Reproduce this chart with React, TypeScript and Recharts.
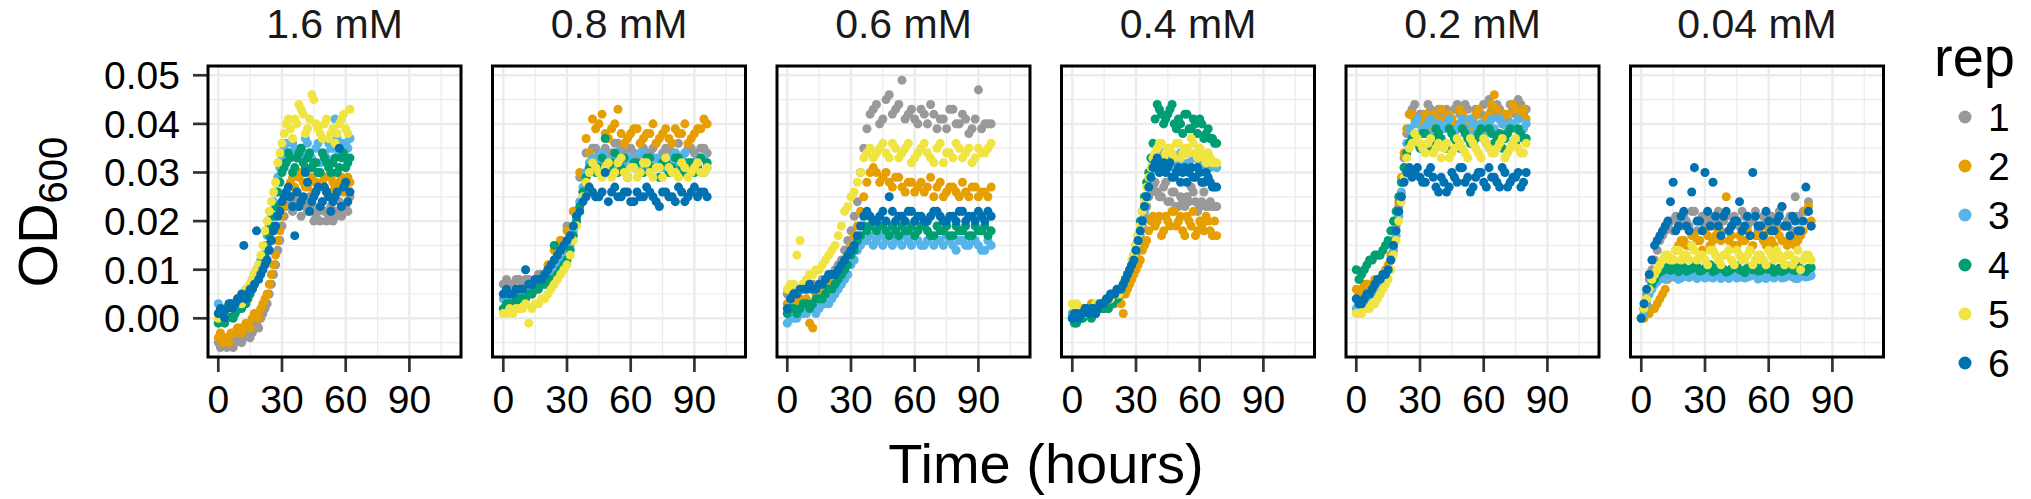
import React from 'react';
import { ScatterChart, Scatter, XAxis, YAxis, ZAxis, ReferenceLine } from 'recharts';

// ---------- labels / categories ----------
const PANEL_TITLES = ['1.6 mM', '0.8 mM', '0.6 mM', '0.4 mM', '0.2 mM', '0.04 mM'];
const REP_LABELS = ['1', '2', '3', '4', '5', '6'];
const REP_COLORS = ['#999999', '#E69F00', '#56B4E9', '#009E73', '#F0E442', '#0072B2'];
const X_TICKS = [0, 30, 60, 90];
const X_MINOR = [15, 45, 75, 105];
const Y_TICKS = [0, 0.01, 0.02, 0.03, 0.04, 0.05];
const Y_MINOR = [-0.005, 0.005, 0.015, 0.025, 0.035, 0.045];
const X_TITLE = 'Time (hours)';
const LEGEND_TITLE = 'rep';

// ---------- 1.6 mM ----------
const T_16 = [0, 2, 4, 6, 8, 10, 12, 14, 16, 18, 20, 22, 24, 26, 28, 30, 32, 34, 36, 38, 40, 42, 44, 46, 48, 50, 52, 54, 56, 58, 60, 62];
const R1_16 = [-0.005, -0.005, -0.006, -0.005, -0.005, -0.004, -0.004, -0.003, -0.003, -0.001, 0.0, 0.002, 0.005, 0.009, 0.014, 0.019, 0.023, 0.025, 0.024, 0.023, 0.024, 0.022, 0.023, 0.021, 0.02, 0.022, 0.021, 0.02, 0.022, 0.021, 0.023, 0.025];
const R2_16 = [-0.004, -0.005, -0.004, -0.003, -0.003, -0.002, -0.002, -0.001, 0.0, 0.001, 0.002, 0.004, 0.007, 0.011, 0.016, 0.021, 0.025, 0.028, 0.027, 0.029, 0.028, 0.027, 0.029, 0.028, 0.027, 0.029, 0.026, 0.028, 0.027, 0.029, 0.027, 0.028];
const R3_16 = [0.003, 0.001, 0.002, 0.002, 0.003, 0.004, 0.005, 0.006, 0.008, 0.01, 0.012, 0.015, 0.019, 0.024, 0.029, 0.033, 0.036, 0.034, 0.035, 0.033, 0.034, 0.036, 0.033, 0.035, 0.032, 0.034, 0.036, 0.035, 0.037, 0.034, 0.036, 0.037];
const R4_16 = [-0.001, 0.0, 0.0, 0.001, 0.001, 0.002, 0.003, 0.004, 0.006, 0.008, 0.01, 0.013, 0.017, 0.021, 0.026, 0.03, 0.032, 0.033, 0.031, 0.034, 0.032, 0.033, 0.031, 0.032, 0.03, 0.033, 0.031, 0.032, 0.03, 0.033, 0.031, 0.033];
const R5_16 = [0.0, 0.001, 0.002, 0.002, 0.003, 0.004, 0.005, 0.006, 0.008, 0.01, 0.013, 0.018, 0.022, 0.026, 0.032, 0.036, 0.04, 0.039, 0.041, 0.044, 0.042, 0.039, 0.046, 0.04, 0.038, 0.04, 0.037, 0.039, 0.038, 0.041, 0.039, 0.043];
const R6_16 = [0.001, 0.001, 0.002, 0.003, 0.003, 0.004, 0.015, 0.005, 0.006, 0.018, 0.009, 0.011, 0.014, 0.018, 0.021, 0.024, 0.026, 0.025, 0.017, 0.023, 0.025, 0.028, 0.024, 0.026, 0.023, 0.027, 0.025, 0.024, 0.026, 0.023, 0.028, 0.026];
const TB_16 = [1, 3, 5, 7, 9, 11, 13, 15, 17, 19, 21, 23, 25, 27, 29, 31, 33, 35, 37, 39, 41, 43, 45, 47, 49, 51, 53, 55, 57, 59, 61];
const B1_16 = [-0.006, -0.005, -0.004, -0.006, -0.004, -0.005, -0.003, -0.004, -0.002, -0.002, 0.001, 0.003, 0.007, 0.011, 0.016, 0.021, 0.024, 0.022, 0.025, 0.021, 0.023, 0.025, 0.02, 0.022, 0.024, 0.02, 0.023, 0.021, 0.024, 0.022, 0.022];
const B2_16 = [-0.003, -0.004, -0.005, -0.003, -0.002, -0.003, -0.001, -0.002, 0.001, 0.0, 0.003, 0.005, 0.009, 0.013, 0.018, 0.023, 0.027, 0.029, 0.026, 0.03, 0.027, 0.028, 0.026, 0.03, 0.028, 0.026, 0.029, 0.027, 0.028, 0.026, 0.029];
const B3_16 = [0.002, 0.002, 0.001, 0.003, 0.004, 0.003, 0.006, 0.007, 0.009, 0.011, 0.013, 0.017, 0.021, 0.026, 0.031, 0.035, 0.034, 0.036, 0.033, 0.035, 0.037, 0.034, 0.032, 0.036, 0.034, 0.033, 0.035, 0.041, 0.034, 0.036, 0.035];
const B4_16 = [0.0, -0.001, 0.001, 0.0, 0.002, 0.002, 0.003, 0.005, 0.007, 0.009, 0.012, 0.015, 0.019, 0.023, 0.028, 0.031, 0.034, 0.03, 0.033, 0.035, 0.031, 0.034, 0.032, 0.03, 0.034, 0.032, 0.03, 0.033, 0.031, 0.034, 0.032];
const B5_16 = [0.001, 0.0, 0.003, 0.002, 0.004, 0.003, 0.006, 0.007, 0.009, 0.011, 0.015, 0.02, 0.024, 0.028, 0.034, 0.038, 0.041, 0.037, 0.04, 0.043, 0.038, 0.041, 0.045, 0.039, 0.037, 0.041, 0.038, 0.036, 0.04, 0.042, 0.038];
const B6_16 = [0.002, 0.0, 0.003, 0.002, 0.004, 0.005, 0.004, 0.006, 0.007, 0.008, 0.01, 0.012, 0.016, 0.019, 0.022, 0.025, 0.027, 0.023, 0.026, 0.024, 0.03, 0.022, 0.025, 0.027, 0.024, 0.026, 0.022, 0.025, 0.035, 0.027, 0.024];

// ---------- 0.8 mM ----------
const T_08 = [0, 3, 6, 9, 12, 15, 18, 21, 24, 27, 30, 33, 36, 39, 42, 45, 48, 51, 54, 57, 60, 63, 66, 69, 72, 75, 78, 81, 84, 87, 90, 93, 96];
const R1_08 = [0.007, 0.007, 0.008, 0.007, 0.008, 0.008, 0.009, 0.01, 0.012, 0.016, 0.019, 0.022, 0.029, 0.034, 0.035, 0.034, 0.035, 0.034, 0.036, 0.034, 0.035, 0.033, 0.035, 0.034, 0.036, 0.034, 0.035, 0.034, 0.033, 0.035, 0.034, 0.035, 0.034];
const R2_08 = [0.004, 0.004, 0.005, 0.005, 0.006, 0.006, 0.008, 0.011, 0.014, 0.016, 0.018, 0.022, 0.03, 0.037, 0.041, 0.04, 0.038, 0.039, 0.043, 0.036, 0.038, 0.039, 0.037, 0.038, 0.036, 0.038, 0.037, 0.039, 0.038, 0.036, 0.038, 0.039, 0.04];
const R3_08 = [0.004, 0.004, 0.005, 0.005, 0.005, 0.006, 0.007, 0.008, 0.009, 0.011, 0.013, 0.018, 0.024, 0.03, 0.033, 0.032, 0.033, 0.031, 0.034, 0.032, 0.033, 0.031, 0.034, 0.032, 0.033, 0.031, 0.032, 0.034, 0.033, 0.031, 0.032, 0.033, 0.031];
const R4_08 = [0.002, 0.003, 0.0035, 0.004, 0.005, 0.006, 0.007, 0.008, 0.015, 0.01, 0.012, 0.017, 0.023, 0.029, 0.032, 0.031, 0.037, 0.032, 0.03, 0.033, 0.031, 0.032, 0.03, 0.033, 0.031, 0.032, 0.03, 0.033, 0.031, 0.032, 0.03, 0.033, 0.032];
const R5_08 = [0.001, 0.002, 0.002, 0.002, -0.001, 0.003, 0.004, 0.005, 0.007, 0.009, 0.011, 0.016, 0.022, 0.028, 0.032, 0.03, 0.031, 0.029, 0.032, 0.03, 0.031, 0.029, 0.032, 0.03, 0.031, 0.029, 0.031, 0.03, 0.032, 0.029, 0.031, 0.03, 0.031];
const R6_08 = [0.005, 0.005, 0.006, 0.006, 0.007, 0.008, 0.008, 0.01, 0.012, 0.014, 0.016, 0.019, 0.022, 0.025, 0.026, 0.025, 0.03, 0.026, 0.025, 0.026, 0.024, 0.026, 0.025, 0.026, 0.024, 0.026, 0.025, 0.024, 0.026, 0.025, 0.027, 0.026, 0.025];
const TB_08 = [1.5, 4.5, 7.5, 10.5, 13.5, 16.5, 19.5, 22.5, 25.5, 28.5, 31.5, 34.5, 37.5, 40.5, 43.5, 46.5, 49.5, 52.5, 55.5, 58.5, 61.5, 64.5, 67.5, 70.5, 73.5, 76.5, 79.5, 82.5, 85.5, 88.5, 91.5, 94.5];
const B1_08 = [0.008, 0.007, 0.008, 0.008, 0.007, 0.009, 0.008, 0.009, 0.011, 0.014, 0.017, 0.021, 0.025, 0.031, 0.035, 0.033, 0.034, 0.036, 0.035, 0.033, 0.034, 0.036, 0.034, 0.035, 0.033, 0.035, 0.034, 0.036, 0.034, 0.035, 0.033, 0.035];
const B2_08 = [0.004, 0.005, 0.005, 0.006, 0.005, 0.007, 0.007, 0.01, 0.012, 0.015, 0.017, 0.02, 0.026, 0.034, 0.039, 0.042, 0.037, 0.04, 0.038, 0.037, 0.039, 0.036, 0.038, 0.04, 0.037, 0.039, 0.036, 0.038, 0.04, 0.037, 0.039, 0.041];
const B3_08 = [0.003, 0.004, 0.005, 0.004, 0.006, 0.006, 0.007, 0.008, 0.01, 0.012, 0.015, 0.021, 0.027, 0.032, 0.032, 0.034, 0.032, 0.033, 0.031, 0.033, 0.032, 0.034, 0.031, 0.033, 0.032, 0.031, 0.033, 0.032, 0.034, 0.032, 0.031, 0.033];
const B4_08 = [0.003, 0.002, 0.004, 0.004, 0.005, 0.006, 0.007, 0.008, 0.009, 0.011, 0.014, 0.02, 0.026, 0.031, 0.03, 0.033, 0.031, 0.034, 0.031, 0.029, 0.032, 0.03, 0.033, 0.031, 0.029, 0.032, 0.031, 0.033, 0.03, 0.032, 0.031, 0.03];
const B5_08 = [0.001, 0.001, 0.002, 0.003, 0.002, 0.003, 0.004, 0.006, 0.008, 0.01, 0.013, 0.019, 0.025, 0.03, 0.031, 0.029, 0.032, 0.03, 0.033, 0.029, 0.031, 0.03, 0.032, 0.029, 0.031, 0.033, 0.03, 0.029, 0.031, 0.03, 0.032, 0.03];
const B6_08 = [0.006, 0.005, 0.006, 0.01, 0.007, 0.008, 0.009, 0.011, 0.013, 0.015, 0.017, 0.021, 0.024, 0.027, 0.025, 0.026, 0.024, 0.027, 0.025, 0.026, 0.024, 0.025, 0.027, 0.025, 0.023, 0.026, 0.025, 0.027, 0.024, 0.026, 0.025, 0.026];

// ---------- 0.6 mM ----------
const T_06 = [0, 3, 6, 9, 12, 15, 18, 21, 24, 27, 30, 33, 36, 39, 42, 45, 48, 51, 54, 57, 60, 63, 66, 69, 72, 75, 78, 81, 84, 87, 90, 93, 96];
const R1_06 = [0.005, 0.005, 0.006, 0.006, 0.007, 0.007, 0.008, 0.009, 0.011, 0.014, 0.018, 0.024, 0.035, 0.042, 0.044, 0.041, 0.046, 0.043, 0.049, 0.042, 0.041, 0.043, 0.04, 0.042, 0.041, 0.039, 0.043, 0.04, 0.041, 0.039, 0.047, 0.04, 0.04];
const R2_06 = [0.003, 0.003, 0.004, 0.004, -0.002, 0.005, 0.006, 0.007, 0.009, 0.012, 0.015, 0.019, 0.025, 0.03, 0.03, 0.029, 0.028, 0.029, 0.027, 0.028, 0.026, 0.028, 0.027, 0.025, 0.028, 0.026, 0.027, 0.025, 0.026, 0.027, 0.025, 0.026, 0.027];
const R3_06 = [-0.001, 0.0, 0.001, 0.001, 0.002, 0.002, 0.003, 0.004, 0.006, 0.008, 0.011, 0.014, 0.016, 0.017, 0.016, 0.015, 0.017, 0.016, 0.015, 0.016, 0.017, 0.015, 0.016, 0.015, 0.016, 0.017, 0.015, 0.016, 0.015, 0.016, 0.015, 0.014, 0.015];
const R4_06 = [0.001, 0.002, 0.002, 0.003, 0.003, 0.004, 0.005, 0.006, 0.008, 0.01, 0.013, 0.016, 0.019, 0.019, 0.018, 0.019, 0.017, 0.018, 0.019, 0.018, 0.017, 0.019, 0.018, 0.017, 0.018, 0.019, 0.017, 0.018, 0.019, 0.017, 0.018, 0.019, 0.018];
const R5_06 = [0.006, 0.007, 0.016, 0.008, 0.009, 0.01, 0.012, 0.014, 0.017, 0.022, 0.025, 0.028, 0.033, 0.035, 0.034, 0.036, 0.033, 0.035, 0.034, 0.036, 0.033, 0.035, 0.034, 0.032, 0.036, 0.034, 0.033, 0.035, 0.034, 0.032, 0.035, 0.034, 0.036];
const R6_06 = [0.002, 0.005, 0.006, 0.006, 0.006, 0.007, 0.008, 0.009, 0.01, 0.012, 0.014, 0.017, 0.021, 0.021, 0.02, 0.022, 0.025, 0.02, 0.021, 0.022, 0.02, 0.021, 0.02, 0.022, 0.021, 0.02, 0.021, 0.022, 0.02, 0.021, 0.022, 0.02, 0.021];
const TB_06 = [1.5, 4.5, 7.5, 10.5, 13.5, 16.5, 19.5, 22.5, 25.5, 28.5, 31.5, 34.5, 37.5, 40.5, 43.5, 46.5, 49.5, 52.5, 55.5, 58.5, 61.5, 64.5, 67.5, 70.5, 73.5, 76.5, 79.5, 82.5, 85.5, 88.5, 91.5, 94.5];
const B1_06 = [0.006, 0.005, 0.007, 0.006, 0.006, 0.008, 0.008, 0.01, 0.012, 0.016, 0.021, 0.03, 0.039, 0.043, 0.04, 0.045, 0.042, 0.044, 0.041, 0.043, 0.04, 0.042, 0.044, 0.039, 0.041, 0.043, 0.04, 0.042, 0.038, 0.041, 0.039, 0.04];
const B2_06 = [0.003, 0.004, 0.003, -0.001, 0.005, 0.005, 0.007, 0.008, 0.01, 0.013, 0.017, 0.022, 0.028, 0.031, 0.028, 0.03, 0.027, 0.029, 0.026, 0.028, 0.027, 0.026, 0.029, 0.027, 0.025, 0.027, 0.026, 0.028, 0.025, 0.027, 0.026, 0.025];
const B3_06 = [0.0, 0.0, 0.001, 0.002, 0.001, 0.003, 0.003, 0.005, 0.007, 0.009, 0.012, 0.015, 0.016, 0.015, 0.017, 0.016, 0.015, 0.016, 0.017, 0.015, 0.016, 0.015, 0.017, 0.016, 0.015, 0.016, 0.014, 0.016, 0.015, 0.016, 0.014, 0.016];
const B4_06 = [0.002, 0.001, 0.003, 0.002, 0.004, 0.004, 0.006, 0.007, 0.009, 0.011, 0.014, 0.017, 0.018, 0.02, 0.019, 0.018, 0.019, 0.017, 0.018, 0.019, 0.018, 0.019, 0.017, 0.019, 0.018, 0.017, 0.019, 0.018, 0.017, 0.019, 0.018, 0.017];
const B5_06 = [0.007, 0.013, 0.007, 0.009, 0.01, 0.011, 0.013, 0.015, 0.019, 0.023, 0.026, 0.03, 0.034, 0.033, 0.035, 0.034, 0.036, 0.033, 0.035, 0.032, 0.034, 0.036, 0.033, 0.035, 0.032, 0.034, 0.036, 0.033, 0.035, 0.033, 0.034, 0.035];
const B6_06 = [0.004, 0.005, 0.006, 0.007, 0.006, 0.007, 0.009, 0.009, 0.011, 0.013, 0.015, 0.019, 0.022, 0.02, 0.021, 0.02, 0.022, 0.021, 0.02, 0.022, 0.021, 0.02, 0.021, 0.022, 0.02, 0.021, 0.02, 0.022, 0.021, 0.02, 0.021, 0.022];

// ---------- 0.4 mM ----------
const T_04 = [0, 2, 4, 6, 8, 10, 12, 14, 16, 18, 20, 22, 24, 26, 28, 30, 32, 34, 36, 38, 40, 42, 44, 46, 48, 50, 52, 54, 56, 58, 60, 62, 64, 66, 68];
const R1_04 = [0.001, 0.001, 0.0, 0.001, 0.001, 0.001, 0.002, 0.002, 0.002, 0.003, 0.004, 0.005, 0.006, 0.008, 0.01, 0.013, 0.017, 0.021, 0.025, 0.027, 0.026, 0.025, 0.028, 0.024, 0.026, 0.023, 0.024, 0.025, 0.027, 0.024, 0.023, 0.026, 0.023, 0.023, 0.023];
const R2_04 = [0.0, 0.001, 0.001, 0.002, 0.001, 0.002, 0.003, 0.002, 0.002, 0.003, 0.003, 0.004, 0.001, 0.006, 0.008, 0.01, 0.012, 0.015, 0.018, 0.021, 0.02, 0.017, 0.021, 0.019, 0.022, 0.02, 0.018, 0.021, 0.019, 0.017, 0.02, 0.018, 0.02, 0.017, 0.017];
const R3_04 = [0.001, 0.001, 0.001, 0.001, 0.002, 0.001, 0.002, 0.002, 0.003, 0.003, 0.004, 0.005, 0.007, 0.009, 0.011, 0.014, 0.018, 0.022, 0.028, 0.032, 0.033, 0.034, 0.032, 0.033, 0.031, 0.033, 0.032, 0.034, 0.031, 0.033, 0.032, 0.031, 0.033, 0.032, 0.031];
const R4_04 = [0.0, -0.001, 0.0, 0.001, 0.001, 0.001, 0.002, 0.002, 0.003, 0.003, 0.004, 0.005, 0.007, 0.009, 0.011, 0.015, 0.02, 0.025, 0.03, 0.036, 0.044, 0.042, 0.041, 0.043, 0.04, 0.041, 0.038, 0.042, 0.039, 0.04, 0.041, 0.037, 0.039, 0.037, 0.036];
const R5_04 = [0.003, 0.003, 0.001, 0.001, 0.002, 0.002, 0.002, 0.003, 0.004, 0.004, 0.005, 0.005, 0.007, 0.009, 0.012, 0.015, 0.019, 0.024, 0.029, 0.033, 0.035, 0.036, 0.034, 0.035, 0.033, 0.036, 0.034, 0.035, 0.037, 0.034, 0.035, 0.033, 0.034, 0.032, 0.032];
const R6_04 = [0.0, 0.001, 0.001, 0.002, 0.001, 0.002, 0.002, 0.003, 0.004, 0.005, 0.005, 0.006, 0.007, 0.009, 0.011, 0.014, 0.018, 0.023, 0.027, 0.031, 0.033, 0.031, 0.03, 0.032, 0.029, 0.031, 0.03, 0.028, 0.031, 0.029, 0.03, 0.028, 0.029, 0.027, 0.027];
const TB_04 = [1, 3, 5, 7, 9, 11, 13, 15, 17, 19, 21, 23, 25, 27, 29, 31, 33, 35, 37, 39, 41, 43, 45, 47, 49, 51, 53, 55, 57, 59, 61, 63, 65, 67];
const B1_04 = [0.001, 0.0, 0.001, 0.001, 0.002, 0.001, 0.002, 0.002, 0.003, 0.003, 0.004, 0.005, 0.007, 0.009, 0.011, 0.015, 0.019, 0.023, 0.026, 0.028, 0.025, 0.027, 0.024, 0.026, 0.023, 0.025, 0.023, 0.024, 0.026, 0.022, 0.024, 0.023, 0.024, 0.023];
const B2_04 = [0.001, 0.0, 0.002, 0.001, 0.003, 0.002, 0.002, 0.003, 0.002, 0.003, 0.004, 0.003, 0.005, 0.007, 0.009, 0.011, 0.014, 0.016, 0.02, 0.019, 0.021, 0.018, 0.02, 0.022, 0.019, 0.021, 0.017, 0.02, 0.022, 0.018, 0.019, 0.021, 0.018, 0.02];
const B3_04 = [0.001, 0.002, 0.001, 0.001, 0.002, 0.002, 0.002, 0.003, 0.003, 0.004, 0.004, 0.006, 0.008, 0.01, 0.012, 0.016, 0.02, 0.025, 0.03, 0.033, 0.032, 0.034, 0.031, 0.033, 0.032, 0.034, 0.031, 0.032, 0.033, 0.031, 0.032, 0.033, 0.031, 0.032];
const B4_04 = [-0.001, 0.0, 0.0, 0.001, 0.0, 0.001, 0.002, 0.002, 0.002, 0.003, 0.004, 0.006, 0.008, 0.01, 0.013, 0.017, 0.022, 0.028, 0.033, 0.041, 0.043, 0.04, 0.042, 0.044, 0.039, 0.04, 0.042, 0.039, 0.041, 0.038, 0.04, 0.038, 0.037, 0.036];
const B5_04 = [0.002, 0.002, 0.001, 0.002, 0.002, 0.003, 0.003, 0.003, 0.004, 0.005, 0.005, 0.006, 0.008, 0.01, 0.013, 0.017, 0.022, 0.027, 0.031, 0.034, 0.036, 0.033, 0.035, 0.034, 0.036, 0.033, 0.035, 0.034, 0.036, 0.033, 0.034, 0.032, 0.033, 0.032];
const B6_04 = [0.001, 0.0, 0.001, 0.002, 0.002, 0.001, 0.003, 0.003, 0.004, 0.005, 0.006, 0.006, 0.008, 0.01, 0.012, 0.016, 0.02, 0.025, 0.029, 0.032, 0.03, 0.032, 0.031, 0.029, 0.03, 0.028, 0.031, 0.03, 0.029, 0.031, 0.028, 0.03, 0.028, 0.027];

// ---------- 0.2 mM ----------
const T_02 = [0, 2.5, 5, 7.5, 10, 12.5, 15, 17.5, 20, 22.5, 25, 27.5, 30, 32.5, 35, 37.5, 40, 42.5, 45, 47.5, 50, 52.5, 55, 57.5, 60, 62.5, 65, 67.5, 70, 72.5, 75, 77.5, 80];
const R1_02 = [0.004, 0.005, 0.005, 0.006, 0.007, 0.008, 0.01, 0.015, 0.023, 0.033, 0.042, 0.044, 0.042, 0.041, 0.043, 0.041, 0.042, 0.043, 0.041, 0.044, 0.042, 0.043, 0.041, 0.042, 0.044, 0.045, 0.042, 0.043, 0.041, 0.044, 0.042, 0.044, 0.043];
const R2_02 = [0.006, 0.006, 0.007, 0.007, 0.008, 0.009, 0.011, 0.016, 0.024, 0.034, 0.042, 0.041, 0.04, 0.042, 0.039, 0.041, 0.043, 0.04, 0.041, 0.039, 0.042, 0.04, 0.041, 0.043, 0.04, 0.042, 0.046, 0.041, 0.042, 0.04, 0.043, 0.042, 0.041];
const R3_02 = [0.002, 0.003, 0.004, 0.005, 0.006, 0.008, 0.01, 0.014, 0.021, 0.031, 0.039, 0.04, 0.038, 0.039, 0.041, 0.038, 0.039, 0.04, 0.038, 0.039, 0.041, 0.038, 0.04, 0.039, 0.038, 0.04, 0.039, 0.041, 0.038, 0.04, 0.039, 0.038, 0.04];
const R4_02 = [0.01, 0.009, 0.011, 0.012, 0.013, 0.014, 0.016, 0.02, 0.025, 0.031, 0.036, 0.037, 0.035, 0.038, 0.036, 0.039, 0.037, 0.035, 0.038, 0.036, 0.039, 0.037, 0.036, 0.038, 0.037, 0.039, 0.036, 0.038, 0.037, 0.039, 0.036, 0.038, 0.037];
const R5_02 = [0.001, 0.001, 0.002, 0.003, 0.004, 0.006, 0.008, 0.013, 0.02, 0.029, 0.035, 0.038, 0.036, 0.034, 0.037, 0.035, 0.033, 0.036, 0.034, 0.037, 0.035, 0.033, 0.036, 0.034, 0.037, 0.035, 0.034, 0.036, 0.033, 0.035, 0.037, 0.034, 0.036];
const R6_02 = [0.004, 0.003, 0.005, 0.006, 0.008, 0.009, 0.01, 0.015, 0.022, 0.028, 0.031, 0.03, 0.029, 0.028, 0.031, 0.027, 0.029, 0.026, 0.03, 0.028, 0.031, 0.029, 0.027, 0.03, 0.028, 0.031, 0.029, 0.027, 0.03, 0.028, 0.029, 0.027, 0.03];
const TB_02 = [1.25, 3.75, 6.25, 8.75, 11.25, 13.75, 16.25, 18.75, 21.25, 23.75, 26.25, 28.75, 31.25, 33.75, 36.25, 38.75, 41.25, 43.75, 46.25, 48.75, 51.25, 53.75, 56.25, 58.75, 61.25, 63.75, 66.25, 68.75, 71.25, 73.75, 76.25, 78.75];
const B1_02 = [0.004, 0.005, 0.006, 0.006, 0.007, 0.009, 0.012, 0.019, 0.028, 0.038, 0.043, 0.041, 0.042, 0.044, 0.04, 0.043, 0.042, 0.041, 0.043, 0.042, 0.044, 0.04, 0.043, 0.042, 0.041, 0.043, 0.044, 0.042, 0.041, 0.043, 0.045, 0.042];
const B2_02 = [0.005, 0.007, 0.006, 0.008, 0.008, 0.01, 0.013, 0.02, 0.029, 0.039, 0.042, 0.04, 0.041, 0.039, 0.042, 0.04, 0.041, 0.042, 0.04, 0.043, 0.041, 0.039, 0.042, 0.04, 0.041, 0.044, 0.043, 0.04, 0.042, 0.044, 0.041, 0.043];
const B3_02 = [0.003, 0.003, 0.005, 0.005, 0.007, 0.009, 0.012, 0.017, 0.026, 0.036, 0.038, 0.041, 0.039, 0.04, 0.038, 0.04, 0.039, 0.041, 0.038, 0.04, 0.039, 0.041, 0.038, 0.04, 0.039, 0.041, 0.038, 0.04, 0.039, 0.04, 0.041, 0.039];
const B4_02 = [0.008, 0.01, 0.012, 0.013, 0.013, 0.015, 0.018, 0.022, 0.028, 0.034, 0.037, 0.036, 0.038, 0.035, 0.037, 0.038, 0.036, 0.039, 0.037, 0.035, 0.038, 0.036, 0.037, 0.039, 0.036, 0.038, 0.037, 0.035, 0.038, 0.036, 0.039, 0.037];
const B5_02 = [0.001, 0.002, 0.002, 0.003, 0.005, 0.007, 0.01, 0.016, 0.024, 0.033, 0.036, 0.037, 0.035, 0.036, 0.034, 0.036, 0.035, 0.033, 0.035, 0.036, 0.034, 0.037, 0.035, 0.033, 0.036, 0.034, 0.035, 0.037, 0.034, 0.036, 0.035, 0.034];
const B6_02 = [0.003, 0.004, 0.005, 0.007, 0.008, 0.009, 0.012, 0.018, 0.025, 0.03, 0.029, 0.031, 0.028, 0.03, 0.029, 0.026, 0.028, 0.027, 0.029, 0.031, 0.028, 0.026, 0.029, 0.03, 0.027, 0.029, 0.028, 0.031, 0.027, 0.029, 0.03, 0.028];

// ---------- 0.04 mM ----------
const T_004 = [0, 2.5, 5, 7.5, 10, 12.5, 15, 17.5, 20, 22.5, 25, 27.5, 30, 32.5, 35, 37.5, 40, 42.5, 45, 47.5, 50, 52.5, 55, 57.5, 60, 62.5, 65, 67.5, 70, 72.5, 75, 77.5, 80];
const R1_004 = [0.0, 0.005, 0.01, 0.014, 0.017, 0.019, 0.018, 0.02, 0.021, 0.019, 0.022, 0.02, 0.019, 0.021, 0.02, 0.018, 0.021, 0.019, 0.02, 0.022, 0.019, 0.02, 0.018, 0.021, 0.019, 0.02, 0.022, 0.019, 0.021, 0.025, 0.02, 0.022, 0.019];
const R2_004 = [0.0, 0.001, 0.002, 0.003, 0.005, 0.008, 0.012, 0.015, 0.016, 0.015, 0.017, 0.016, 0.018, 0.015, 0.017, 0.016, 0.025, 0.017, 0.015, 0.016, 0.018, 0.015, 0.017, 0.016, 0.018, 0.015, 0.017, 0.019, 0.016, 0.015, 0.017, 0.022, 0.02];
const R3_004 = [0.0, 0.003, 0.006, 0.0075, 0.0082, 0.0088, 0.0085, 0.008, 0.009, 0.0084, 0.0088, 0.0092, 0.0083, 0.0087, 0.009, 0.0082, 0.0086, 0.0089, 0.0083, 0.0087, 0.0085, 0.009, 0.0081, 0.0086, 0.0088, 0.0083, 0.0087, 0.0084, 0.0089, 0.0082, 0.0086, 0.0085, 0.0088];
const R4_004 = [0.0, 0.004, 0.007, 0.009, 0.0098, 0.0102, 0.0107, 0.0096, 0.0104, 0.01, 0.0108, 0.0097, 0.0103, 0.011, 0.0099, 0.0105, 0.0095, 0.0102, 0.0108, 0.0098, 0.0104, 0.01, 0.0097, 0.0106, 0.0101, 0.0095, 0.0103, 0.0099, 0.0107, 0.0098, 0.0102, 0.0096, 0.0104];
const R5_004 = [0.0, 0.004, 0.008, 0.01, 0.012, 0.013, 0.012, 0.014, 0.013, 0.012, 0.014, 0.013, 0.012, 0.014, 0.013, 0.011, 0.013, 0.012, 0.014, 0.012, 0.013, 0.011, 0.013, 0.012, 0.014, 0.012, 0.013, 0.011, 0.013, 0.012, 0.01, 0.013, 0.012];
const R6_004 = [0.0, 0.006, 0.012, 0.016, 0.018, 0.02, 0.028, 0.019, 0.022, 0.018, 0.031, 0.02, 0.03, 0.019, 0.021, 0.017, 0.022, 0.019, 0.02, 0.018, 0.021, 0.03, 0.019, 0.017, 0.02, 0.018, 0.021, 0.019, 0.017, 0.02, 0.018, 0.027, 0.019];
const TB_004 = [1.25, 3.75, 6.25, 8.75, 11.25, 13.75, 16.25, 18.75, 21.25, 23.75, 26.25, 28.75, 31.25, 33.75, 36.25, 38.75, 41.25, 43.75, 46.25, 48.75, 51.25, 53.75, 56.25, 58.75, 61.25, 63.75, 66.25, 68.75, 71.25, 73.75, 76.25, 78.75];
const B1_004 = [0.002, 0.008, 0.012, 0.016, 0.018, 0.02, 0.021, 0.019, 0.02, 0.022, 0.018, 0.021, 0.02, 0.019, 0.022, 0.02, 0.018, 0.021, 0.019, 0.021, 0.02, 0.022, 0.019, 0.02, 0.021, 0.019, 0.023, 0.02, 0.018, 0.021, 0.022, 0.024];
const B2_004 = [0.0, 0.001, 0.002, 0.004, 0.006, 0.01, 0.014, 0.016, 0.015, 0.017, 0.016, 0.014, 0.017, 0.016, 0.018, 0.021, 0.016, 0.015, 0.017, 0.016, 0.014, 0.017, 0.019, 0.015, 0.016, 0.018, 0.016, 0.015, 0.017, 0.016, 0.018, 0.023];
const B3_004 = [0.001, 0.005, 0.007, 0.0085, 0.008, 0.0087, 0.0089, 0.0083, 0.0086, 0.009, 0.0082, 0.0087, 0.0085, 0.0083, 0.0089, 0.0086, 0.0082, 0.0088, 0.0085, 0.0083, 0.0087, 0.0089, 0.0084, 0.0082, 0.0086, 0.0089, 0.0083, 0.0087, 0.0085, 0.0082, 0.0088, 0.0086];
const B4_004 = [0.002, 0.006, 0.008, 0.0095, 0.0105, 0.0099, 0.0103, 0.0108, 0.0097, 0.0102, 0.0106, 0.0099, 0.0104, 0.0096, 0.0108, 0.0101, 0.0097, 0.0105, 0.01, 0.0094, 0.0103, 0.0107, 0.0098, 0.0102, 0.0105, 0.0099, 0.0096, 0.0104, 0.01, 0.0107, 0.0098, 0.0103];
const B5_004 = [0.002, 0.006, 0.009, 0.011, 0.013, 0.012, 0.014, 0.012, 0.013, 0.015, 0.012, 0.013, 0.011, 0.014, 0.012, 0.013, 0.014, 0.011, 0.013, 0.012, 0.014, 0.012, 0.013, 0.011, 0.013, 0.014, 0.012, 0.013, 0.011, 0.014, 0.012, 0.013];
const B6_004 = [0.003, 0.009, 0.015, 0.017, 0.019, 0.024, 0.018, 0.021, 0.019, 0.026, 0.02, 0.018, 0.022, 0.028, 0.019, 0.021, 0.018, 0.02, 0.024, 0.019, 0.017, 0.021, 0.019, 0.022, 0.018, 0.02, 0.023, 0.019, 0.021, 0.018, 0.02, 0.022];

const PANEL_TIMES = [T_16, T_08, T_06, T_04, T_02, T_004];
const PANEL_REPS = [
  [R1_16, R2_16, R3_16, R4_16, R5_16, R6_16],
  [R1_08, R2_08, R3_08, R4_08, R5_08, R6_08],
  [R1_06, R2_06, R3_06, R4_06, R5_06, R6_06],
  [R1_04, R2_04, R3_04, R4_04, R5_04, R6_04],
  [R1_02, R2_02, R3_02, R4_02, R5_02, R6_02],
  [R1_004, R2_004, R3_004, R4_004, R5_004, R6_004],
];
const PANEL_TIMES_B = [TB_16, TB_08, TB_06, TB_04, TB_02, TB_004];
const PANEL_REPS_B = [
  [B1_16, B2_16, B3_16, B4_16, B5_16, B6_16],
  [B1_08, B2_08, B3_08, B4_08, B5_08, B6_08],
  [B1_06, B2_06, B3_06, B4_06, B5_06, B6_06],
  [B1_04, B2_04, B3_04, B4_04, B5_04, B6_04],
  [B1_02, B2_02, B3_02, B4_02, B5_02, B6_02],
  [B1_004, B2_004, B3_004, B4_004, B5_004, B6_004],
];

// ---------- layout ----------
const FONT = '"Liberation Sans", Arial, Helvetica, sans-serif';
const PLOT_LEFT0 = 208;
const PITCH = 284.5;
const PLOT_W = 253;
const PLOT_TOP = 66;
const PLOT_H = 291;
const X_DOMAIN: [number, number] = [-4.85, 114.3];
const Y_DOMAIN: [number, number] = [-0.00796, 0.05191];
const XAXIS_H = 70;
const M = 10;
const MT = 30;
const YAXIS_W = 198;

function Panel({ index }: { index: number }) {
  const showY = index === 0;
  const yW = showY ? YAXIS_W : 0;
  const left = PLOT_LEFT0 + PITCH * index - M - yW;
  const width = M + yW + PLOT_W + M;
  const height = MT + PLOT_H + XAXIS_H;
  const tA = PANEL_TIMES[index];
  const tB = PANEL_TIMES_B[index];
  const series = PANEL_REPS[index].map((ys, r) => {
    const a = tA.map((t, k) => ({ t, od: ys[k] }));
    const yb = PANEL_REPS_B[index][r];
    const b = tB.map((t, k) => ({ t, od: yb[k] }));
    return a.concat(b);
  });
  return (
    <div style={{ position: 'absolute', left, top: PLOT_TOP - MT }}>
      <ScatterChart width={width} height={height} margin={{ top: MT, right: M, bottom: 0, left: M }}>
        <XAxis
          type="number"
          dataKey="t"
          domain={X_DOMAIN}
          ticks={X_TICKS}
          allowDataOverflow
          interval={0}
          axisLine={false}
          tickSize={15}
          tickMargin={13}
          tickLine={{ stroke: '#333', strokeWidth: 2.7 }}
          tick={{ fill: '#000', fontSize: 39, fontFamily: FONT }}
          height={XAXIS_H}
        />
        <YAxis
          type="number"
          dataKey="od"
          domain={Y_DOMAIN}
          ticks={Y_TICKS}
          allowDataOverflow
          interval={0}
          hide={!showY}
          width={showY ? yW : 0}
          axisLine={false}
          tickSize={15}
          tickMargin={13}
          tickLine={{ stroke: '#333', strokeWidth: 2.7 }}
          tick={{ fill: '#000', fontSize: 39, fontFamily: FONT }}
          tickFormatter={(v: number) => v.toFixed(2)}
        />
        <ZAxis range={[34, 34]} />
        {X_MINOR.map((v) => (
          <ReferenceLine key={'xm' + v} x={v} stroke="#EBEBEB" strokeWidth={1.2} />
        ))}
        {Y_MINOR.map((v) => (
          <ReferenceLine key={'ym' + v} y={v} stroke="#EBEBEB" strokeWidth={1.2} />
        ))}
        {X_TICKS.map((v) => (
          <ReferenceLine key={'xM' + v} x={v} stroke="#EBEBEB" strokeWidth={2.4} />
        ))}
        {Y_TICKS.map((v) => (
          <ReferenceLine key={'yM' + v} y={v} stroke="#EBEBEB" strokeWidth={2.4} />
        ))}
        {series.map((d, r) => (
          <Scatter key={r} name={REP_LABELS[r]} data={d} fill={REP_COLORS[r]} isAnimationActive={false} />
        ))}
      </ScatterChart>
    </div>
  );
}

const LEGEND_Y = [117, 166, 215, 265, 314, 363];

export default function App() {
  return (
    <div
      style={{
        position: 'absolute',
        left: 0,
        top: 0,
        width: 2031,
        height: 499,
        background: '#fff',
        fontFamily: FONT,
        overflow: 'hidden',
      }}
    >
      {PANEL_TITLES.map((_, i) => (
        <Panel key={i} index={i} />
      ))}
      <svg
        width={2031}
        height={499}
        style={{ position: 'absolute', left: 0, top: 0, pointerEvents: 'none', fontFamily: FONT }}
      >
        {PANEL_TITLES.map((title, i) => {
          const lp = PLOT_LEFT0 + PITCH * i;
          return (
            <g key={i}>
              <rect x={lp} y={PLOT_TOP} width={PLOT_W} height={PLOT_H} fill="none" stroke="#000" strokeWidth={3} />
              <text x={lp + PLOT_W / 2} y={38} textAnchor="middle" fontSize={41} fill="#1a1a1a">
                {title}
              </text>
            </g>
          );
        })}
        <text x={1046} y={483} textAnchor="middle" fontSize={56} fill="#000">
          {X_TITLE}
        </text>
        <text x={57} y={212} textAnchor="middle" fontSize={56} fill="#000" transform="rotate(-90 57 212)">
          OD
          <tspan fontSize={40} dy={10}>
            600
          </tspan>
        </text>
        <text x={1934} y={76} fontSize={56} fill="#000">
          {LEGEND_TITLE}
        </text>
        {REP_LABELS.map((lab, r) => (
          <g key={lab}>
            <circle cx={1965} cy={LEGEND_Y[r]} r={6.5} fill={REP_COLORS[r]} />
            <text x={1988} y={LEGEND_Y[r] + 14} fontSize={39} fill="#000">
              {lab}
            </text>
          </g>
        ))}
      </svg>
    </div>
  );
}
